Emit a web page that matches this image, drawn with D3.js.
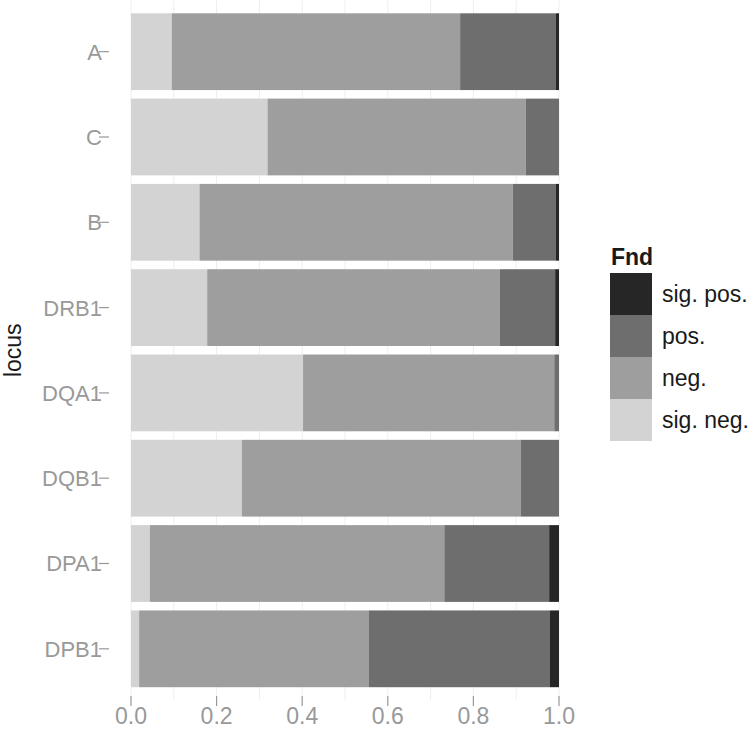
<!DOCTYPE html>
<html>
<head>
<meta charset="utf-8">
<script src="https://cdn.jsdelivr.net/npm/d3@7"></script>
<style>
  body { margin: 0; background: #fff; }
  text { font-family: "Liberation Sans", Arial, Helvetica, sans-serif; }
</style>
</head>
<body>
<svg id="chart"></svg>
<script>
// loci, top to bottom
var loci = ["A", "C", "B", "DRB1", "DQA1", "DQB1", "DPA1", "DPB1"];
// fraction in each category, stacked left to right
var sigNeg = [0.095, 0.319, 0.160, 0.178, 0.402, 0.259, 0.044, 0.019];
var neg    = [0.674, 0.603, 0.732, 0.684, 0.587, 0.652, 0.688, 0.537];
var pos    = [0.224, 0.078, 0.101, 0.129, 0.011, 0.089, 0.245, 0.423];
var sigPos = [0.007, 0.000, 0.007, 0.009, 0.000, 0.000, 0.023, 0.021];
var fndLevels = ["sig. neg.", "neg.", "pos.", "sig. pos."];
var xTicks = [0, 0.2, 0.4, 0.6, 0.8, 1.0];

var width = 756, height = 730;
var panel = {left: 131, right: 559, top: 0.5, bottom: 700};

var colour = d3.scaleOrdinal()
  .domain(fndLevels)
  .range(["#d3d3d3", "#9e9e9e", "#6e6e6e", "#262626"]);

var svg = d3.select("#chart")
  .attr("width", width)
  .attr("height", height);

var x = d3.scaleLinear()
  .domain([0, 1])
  .range([panel.left, panel.right]);

// ggplot style: 0.6 band expansion at each end, bar width 0.9
var y = d3.scaleBand()
  .domain(loci)
  .range([panel.top, panel.bottom])
  .paddingInner(0.1)
  .paddingOuter(0.15);

var table = loci.map(function(l, i) {
  return {locus: l, "sig. neg.": sigNeg[i], "neg.": neg[i], "pos.": pos[i], "sig. pos.": sigPos[i]};
});
var series = d3.stack().keys(fndLevels)(table);

// grid lines (minor + major)
var gridVals = d3.range(0, 1.01, 0.1);
svg.append("g").selectAll("line")
  .data(gridVals)
  .enter().append("line")
  .attr("x1", function(d) { return x(d); })
  .attr("x2", function(d) { return x(d); })
  .attr("y1", panel.top)
  .attr("y2", panel.bottom)
  .attr("stroke", "#eeeeee")
  .attr("stroke-width", 1);

svg.append("g").selectAll("g")
  .data(series)
  .enter().append("g")
  .attr("fill", function(s) { return colour(s.key); })
  .selectAll("rect")
  .data(function(s) { return s; })
  .enter().append("rect")
  .attr("x", function(d) { return x(d[0]); })
  .attr("width", function(d) { return Math.max(0, x(d[1]) - x(d[0])); })
  .attr("y", function(d) { return y(d.data.locus); })
  .attr("height", y.bandwidth());

// y axis
var yAxis = svg.append("g");
loci.forEach(function(l) {
  var cy = y(l) + y.bandwidth() / 2;
  yAxis.append("line")
    .attr("x1", 99).attr("x2", 109)
    .attr("y1", cy).attr("y2", cy)
    .attr("stroke", "#999").attr("stroke-width", 1.2);
  yAxis.append("text")
    .attr("x", 102)
    .attr("y", cy)
    .attr("dy", "0.36em")
    .attr("text-anchor", "end")
    .attr("font-size", 22)
    .attr("fill", "#999")
    .text(l);
});

// x axis
var xAxis = svg.append("g");
xTicks.forEach(function(t) {
  xAxis.append("line")
    .attr("x1", x(t)).attr("x2", x(t))
    .attr("y1", 696).attr("y2", 706)
    .attr("stroke", "#999").attr("stroke-width", 1.2);
  xAxis.append("text")
    .attr("x", x(t))
    .attr("y", 724)
    .attr("text-anchor", "middle")
    .attr("font-size", 23)
    .attr("fill", "#999")
    .text(d3.format(".1f")(t));
});

svg.append("text")
  .attr("transform", "translate(21," + (panel.top + panel.bottom) / 2 + ") rotate(-90)")
  .attr("text-anchor", "middle")
  .attr("font-size", 23)
  .attr("fill", "#1a1a1a")
  .text("locus");

// legend
var legend = svg.append("g").attr("transform", "translate(610,273)");
legend.append("text")
  .attr("x", 1).attr("y", -8)
  .attr("font-size", 23)
  .attr("font-weight", "bold")
  .attr("fill", "#1a1a1a")
  .text("Fnd");
fndLevels.slice().reverse().forEach(function(k, i) {
  legend.append("rect")
    .attr("x", 0).attr("y", i * 42)
    .attr("width", 42).attr("height", 42)
    .attr("fill", colour(k));
  legend.append("text")
    .attr("x", 52).attr("y", i * 42 + 21)
    .attr("dy", "0.36em")
    .attr("font-size", 23)
    .attr("fill", "#1a1a1a")
    .text(k);
});
</script>
</body>
</html>
